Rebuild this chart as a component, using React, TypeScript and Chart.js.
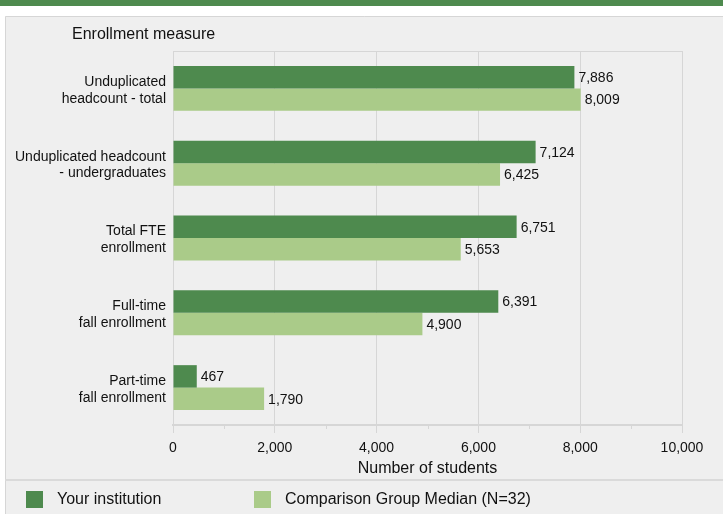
import React, { useEffect, useRef } from "react";
import { Chart, registerables } from "chart.js";

Chart.register(...registerables);

const categories: string[][] = [
  ["Unduplicated", "headcount - total"],
  ["Unduplicated headcount", "- undergraduates"],
  ["Total FTE", "enrollment"],
  ["Full-time", "fall enrollment"],
  ["Part-time", "fall enrollment"],
];
const yourInstitution = [7886, 7124, 6751, 6391, 467];
const comparisonMedian = [8009, 6425, 5653, 4900, 1790];
const seriesNames = ["Your institution", "Comparison Group Median (N=32)"];
const xTicks = [0, 2000, 4000, 6000, 8000, 10000];
const minorTicks = [1000, 3000, 5000, 7000, 9000];
const yAxisTitle = "Enrollment measure";
const xAxisTitle = "Number of students";

const DARK = "#4e8a4e";
const LIGHT = "#aacb89";
const GRID = "#d6d6d6";
const BG = "#efefef";
const FONT = "'Liberation Sans', Arial, Helvetica, sans-serif";
const fmt = (v: number) => v.toLocaleString("en-US");

const decorPlugin = {
  id: "decor",
  beforeDraw(chart: any) {
    const ctx = chart.ctx;
    const W = chart.width;
    const H = chart.height;
    ctx.save();
    ctx.fillStyle = "#ffffff";
    ctx.fillRect(0, 0, W, H);
    ctx.fillStyle = DARK;
    ctx.fillRect(0, 0, W, 6);
    ctx.fillStyle = BG;
    ctx.fillRect(5, 16, W - 5, H - 16);
    ctx.strokeStyle = GRID;
    ctx.lineWidth = 1;
    ctx.beginPath();
    ctx.moveTo(5.5, H);
    ctx.lineTo(5.5, 16.5);
    ctx.lineTo(W, 16.5);
    ctx.stroke();
    ctx.fillStyle = "#dadada";
    ctx.fillRect(5, 479, W - 5, 2);
    ctx.fillStyle = "#111";
    ctx.font = `16px ${FONT}`;
    ctx.textBaseline = "middle";
    ctx.textAlign = "left";
    ctx.fillText(yAxisTitle, 72, 35);
    // legend
    const legendX = [26, 254];
    chart.data.datasets.forEach((ds: any, i: number) => {
      ctx.fillStyle = ds.backgroundColor;
      ctx.fillRect(legendX[i], 491, 17, 17);
      ctx.fillStyle = "#111";
      ctx.fillText(ds.label, legendX[i] + 31, 500);
    });
    ctx.restore();
  },
  afterDraw(chart: any) {
    const ctx = chart.ctx;
    const area = chart.chartArea;
    const xs = chart.scales.x;
    ctx.save();
    ctx.strokeStyle = GRID;
    ctx.lineWidth = 1;
    ctx.beginPath();
    ctx.moveTo(area.left, area.top + 0.5);
    ctx.lineTo(area.right, area.top + 0.5);
    minorTicks.forEach((v) => {
      const x = Math.round(xs.getPixelForValue(v)) + 0.5;
      ctx.moveTo(x, area.bottom);
      ctx.lineTo(x, area.bottom + 4);
    });
    ctx.stroke();
    ctx.restore();
  },
  afterDatasetsDraw(chart: any) {
    const ctx = chart.ctx;
    ctx.save();
    ctx.font = `14px ${FONT}`;
    ctx.fillStyle = "#111";
    ctx.textBaseline = "middle";
    ctx.textAlign = "left";
    chart.data.datasets.forEach((ds: any, di: number) => {
      const meta = chart.getDatasetMeta(di);
      meta.data.forEach((bar: any, i: number) => {
        ctx.fillText(fmt(ds.data[i]), bar.x + 4, bar.y + 1);
      });
    });
    ctx.restore();
  },
};

export default function App() {
  const ref = useRef<HTMLCanvasElement>(null);
  useEffect(() => {
    if (!ref.current) return;
    const chart = new Chart(ref.current, {
      type: "bar",
      data: {
        labels: categories,
        datasets: [
          { label: seriesNames[0], data: yourInstitution, backgroundColor: DARK, categoryPercentage: 0.6, barPercentage: 1 },
          { label: seriesNames[1], data: comparisonMedian, backgroundColor: LIGHT, categoryPercentage: 0.6, barPercentage: 1 },
        ],
      },
      options: {
        indexAxis: "y",
        responsive: false,
        animation: false,
        devicePixelRatio: 1,
        layout: { padding: { left: 0, top: 51, right: 41, bottom: 36 } },
        plugins: { legend: { display: false }, tooltip: { enabled: false } },
        scales: {
          x: {
            min: 0,
            max: 10000,
            afterBuildTicks: (scale: any) => {
              scale.ticks = xTicks.map((v) => ({ value: v }));
            },
            afterFit: (scale: any) => {
              scale.height = 53;
            },
            ticks: {
              callback: (v: any) => fmt(Number(v)),
              font: { family: FONT, size: 14 },
              color: "#111",
              padding: 7,
              maxRotation: 0,
            },
            grid: { color: GRID, tickColor: GRID, tickLength: 8, lineWidth: 1 },
            border: { color: GRID, width: 2 },
            title: {
              display: true,
              text: xAxisTitle,
              font: { family: FONT, size: 16 },
              color: "#111",
              padding: { top: 0, bottom: 0 },
            },
          },
          y: {
            afterFit: (scale: any) => {
              scale.width = 173;
            },
            ticks: {
              font: { family: FONT, size: 14, lineHeight: 1.2 },
              color: "#111",
              padding: 7,
              labelOffset: 2,
            },
            grid: { display: false, drawTicks: false },
            border: { display: false },
          },
        },
      },
      plugins: [decorPlugin],
    });
    return () => chart.destroy();
  }, []);
  return (
    <div style={{ position: "fixed", left: 0, top: 0, width: 723, height: 514 }}>
      <canvas ref={ref} width={723} height={514} style={{ width: 723, height: 514, display: "block" }} />
    </div>
  );
}
